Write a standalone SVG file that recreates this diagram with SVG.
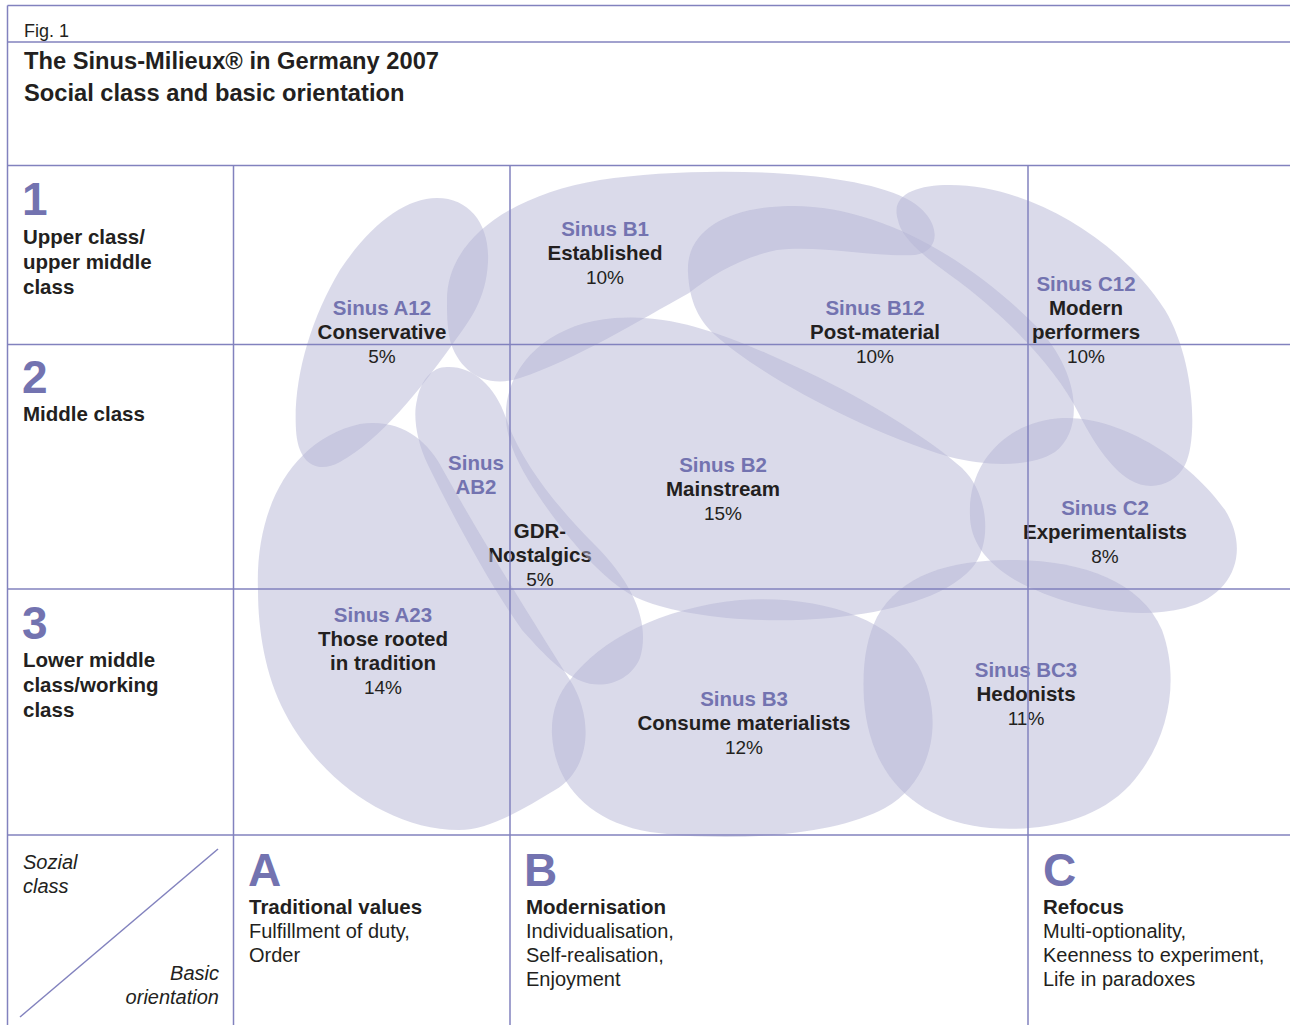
<svg xmlns="http://www.w3.org/2000/svg" width="1290" height="1025" viewBox="0 0 1290 1025">
  <style>
    .blob { fill: #b6b6d6; fill-opacity: 0.5; stroke: none; }
    .grid line { stroke: #8282be; stroke-width: 1.5; }
    text { font-family: "Liberation Sans", Arial, sans-serif; }
    .sinus { font-size: 20.5px; font-weight: bold; fill: #7373b0; text-anchor: middle; }
    .name { font-size: 20.5px; font-weight: bold; fill: #231f20; text-anchor: middle; }
    .pct { font-size: 19px; fill: #231f20; text-anchor: middle; }
    .big { font-size: 46px; font-weight: bold; fill: #7373b0; }
    .lbl { font-size: 20.5px; font-weight: bold; fill: #231f20; }
    .head { font-size: 23.7px; font-weight: bold; fill: #231f20; }
    .txt { font-size: 20px; fill: #231f20; }
    .ital { font-size: 20px; font-style: italic; fill: #231f20; }
  </style>

  <rect width="1290" height="1025" fill="#ffffff"/>

  <!-- Title block -->
  <g id="title">
    <text x="24" y="37" style="font-size:18px" fill="#231f20">Fig. 1</text>
    <text x="24" y="69" class="head">The Sinus-Milieux® in Germany 2007</text>
    <text x="24" y="101" class="head">Social class and basic orientation</text>
  </g>

  <!-- Milieu shapes with labels -->
  <g id="node-A12">
    <path class="blob" d="M 437,198 C 470,198 490,225 488,262 C 486,300 470,320 452,345 C 420,390 380,440 340,462 C 318,474 298,465 296,430 C 293,380 310,320 340,270 C 370,225 405,198 437,198 Z"/>
    <text x="382" y="315" class="sinus">Sinus A12</text>
    <text x="382" y="339" class="name">Conservative</text>
    <text x="382" y="363" class="pct">5%</text>
  </g>

  <g id="node-B1">
    <path class="blob" d="M 447,300 C 447,240 510,195 600,180 C 700,165 850,170 905,198 C 940,215 945,250 915,255 C 870,257 820,245 777,250 C 740,258 712,275 689,293 C 640,320 575,360 520,378 C 485,390 458,370 450,340 C 447,325 447,312 447,300 Z"/>
    <text x="605" y="236" class="sinus">Sinus B1</text>
    <text x="605" y="260" class="name">Established</text>
    <text x="605" y="284" class="pct">10%</text>
  </g>

  <g id="node-B12">
    <path class="blob" d="M 688,272 C 686,232 725,207 790,206 C 880,205 970,260 1035,325 C 1080,370 1085,430 1055,452 C 1030,468 985,466 950,457 C 860,430 760,375 715,335 C 695,317 689,295 688,272 Z"/>
    <text x="875" y="315" class="sinus">Sinus B12</text>
    <text x="875" y="339" class="name">Post-material</text>
    <text x="875" y="363" class="pct">10%</text>
  </g>

  <g id="node-C12">
    <path class="blob" d="M 898,220 C 890,195 915,185 950,185 C 1030,185 1120,240 1165,310 C 1195,360 1198,440 1185,465 C 1175,485 1150,492 1130,480 C 1110,468 1092,440 1078,412 C 1058,372 1010,318 950,275 C 918,252 901,236 898,220 Z"/>
    <text x="1086" y="291" class="sinus">Sinus C12</text>
    <text x="1086" y="315" class="name">Modern</text>
    <text x="1086" y="339" class="name">performers</text>
    <text x="1086" y="363" class="pct">10%</text>
  </g>

  <g id="node-AB2">
    <path class="blob" d="M 447,367 C 472,366 495,385 506,418 C 520,460 555,505 595,545 C 635,585 650,625 640,658 C 630,682 602,690 581,681 C 560,672 540,650 522,630 C 490,585 455,520 428,465 C 416,440 413,415 417,400 C 421,380 432,367 447,367 Z"/>
    <text x="476" y="470" class="sinus">Sinus</text>
    <text x="476" y="494" class="sinus">AB2</text>
    <text x="540" y="538" class="name">GDR-</text>
    <text x="540" y="562" class="name">Nostalgics</text>
    <text x="540" y="586" class="pct">5%</text>
  </g>

  <g id="node-B2">
    <path class="blob" d="M 506,420 C 503,370 545,323 615,318 C 680,313 740,340 820,378 C 880,408 930,440 962,468 C 990,495 992,545 972,568 C 945,598 890,612 830,618 C 750,625 680,615 642,600 C 605,585 565,535 538,495 C 520,468 508,445 506,420 Z"/>
    <text x="723" y="472" class="sinus">Sinus B2</text>
    <text x="723" y="496" class="name">Mainstream</text>
    <text x="723" y="520" class="pct">15%</text>
  </g>

  <g id="node-C2">
    <path class="blob" d="M 970,515 C 968,460 1010,420 1063,418 C 1120,416 1190,460 1225,510 C 1250,550 1235,595 1185,608 C 1130,622 1060,605 1015,580 C 985,562 970,540 970,515 Z"/>
    <text x="1105" y="515" class="sinus">Sinus C2</text>
    <text x="1105" y="539" class="name">Experimentalists</text>
    <text x="1105" y="563" class="pct">8%</text>
  </g>

  <g id="node-A23">
    <path class="blob" d="M 258,590 C 255,510 290,440 360,424 C 400,418 428,440 443,470 C 482,540 532,620 570,680 C 595,720 590,770 555,790 C 525,808 490,830 459,830 C 390,830 320,780 285,713 C 265,675 258,630 258,590 Z"/>
    <text x="383" y="622" class="sinus">Sinus A23</text>
    <text x="383" y="646" class="name">Those rooted</text>
    <text x="383" y="670" class="name">in tradition</text>
    <text x="383" y="694" class="pct">14%</text>
  </g>

  <g id="node-B3">
    <path class="blob" d="M 570,680 C 600,640 660,608 740,600 C 820,595 890,618 918,665 C 945,715 935,780 885,808 C 830,838 720,842 650,832 C 590,822 555,785 552,735 C 551,712 558,694 570,680 Z"/>
    <text x="744" y="706" class="sinus">Sinus B3</text>
    <text x="744" y="730" class="name">Consume materialists</text>
    <text x="744" y="754" class="pct">12%</text>
  </g>

  <g id="node-BC3">
    <path class="blob" d="M 877,617 C 900,575 950,560 1010,560 C 1080,560 1140,580 1162,630 C 1180,680 1170,740 1130,785 C 1095,822 1040,832 990,828 C 920,822 870,780 864,700 C 862,665 866,640 877,617 Z"/>
    <text x="1026" y="677" class="sinus">Sinus BC3</text>
    <text x="1026" y="701" class="name">Hedonists</text>
    <text x="1026" y="725" class="pct">11%</text>
  </g>

  <!-- Social class axis (rows) -->
  <g id="row-1">
    <text x="22" y="215" class="big">1</text>
    <text x="23" y="244" class="lbl">Upper class/</text>
    <text x="23" y="269" class="lbl">upper middle</text>
    <text x="23" y="294" class="lbl">class</text>
  </g>
  <g id="row-2">
    <text x="22" y="393" class="big">2</text>
    <text x="23" y="421" class="lbl">Middle class</text>
  </g>
  <g id="row-3">
    <text x="22" y="639" class="big">3</text>
    <text x="23" y="667" class="lbl">Lower middle</text>
    <text x="23" y="692" class="lbl">class/working</text>
    <text x="23" y="717" class="lbl">class</text>
  </g>

  <!-- Basic orientation axis (columns) -->
  <g id="col-A">
    <text x="248" y="886" class="big">A</text>
    <text x="249" y="914" class="lbl">Traditional values</text>
    <text x="249" y="938" class="txt">Fulfillment of duty,</text>
    <text x="249" y="962" class="txt">Order</text>
  </g>
  <g id="col-B">
    <text x="524" y="886" class="big">B</text>
    <text x="526" y="914" class="lbl">Modernisation</text>
    <text x="526" y="938" class="txt">Individualisation,</text>
    <text x="526" y="962" class="txt">Self-realisation,</text>
    <text x="526" y="986" class="txt">Enjoyment</text>
  </g>
  <g id="col-C">
    <text x="1043" y="886" class="big">C</text>
    <text x="1043" y="914" class="lbl">Refocus</text>
    <text x="1043" y="938" class="txt">Multi-optionality,</text>
    <text x="1043" y="962" class="txt">Keenness to experiment,</text>
    <text x="1043" y="986" class="txt">Life in paradoxes</text>
  </g>

  <!-- Axis legend corner -->
  <g id="legend">
    <text x="23" y="869" class="ital">Sozial</text>
    <text x="23" y="893" class="ital">class</text>
    <text x="219" y="980" class="ital" text-anchor="end">Basic</text>
    <text x="219" y="1004" class="ital" text-anchor="end">orientation</text>
    <line x1="20" y1="1017" x2="218" y2="849" stroke="#8282be" stroke-width="1.5"/>
  </g>

  <!-- Frame and grid -->
  <g id="grid" class="grid">
    <line x1="7.5" y1="5.5" x2="1290" y2="5.5"/>
    <line x1="7.5" y1="5.5" x2="7.5" y2="1025"/>
    <line x1="7.5" y1="42" x2="1290" y2="42"/>
    <line x1="7.5" y1="165.5" x2="1290" y2="165.5"/>
    <line x1="7.5" y1="344.5" x2="1290" y2="344.5"/>
    <line x1="7.5" y1="589" x2="1290" y2="589"/>
    <line x1="7.5" y1="835" x2="1290" y2="835"/>
    <line x1="233.5" y1="165.5" x2="233.5" y2="1025"/>
    <line x1="510" y1="165.5" x2="510" y2="1025"/>
    <line x1="1028" y1="165.5" x2="1028" y2="1025"/>
  </g>
</svg>
